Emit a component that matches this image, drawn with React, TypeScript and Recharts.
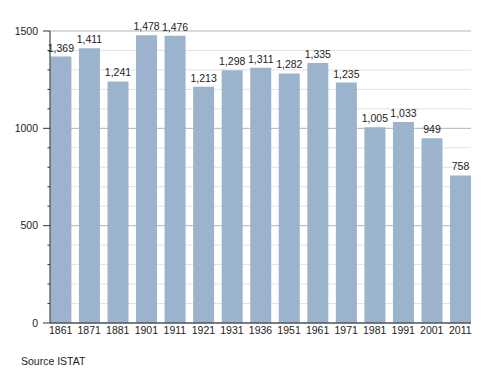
import { Bar, BarChart, CartesianGrid, LabelList, XAxis, YAxis } from "recharts";

const years = ["1861", "1871", "1881", "1901", "1911", "1921", "1931", "1936", "1951", "1961", "1971", "1981", "1991", "2001", "2011"];
const population = [1369, 1411, 1241, 1478, 1476, 1213, 1298, 1311, 1282, 1335, 1235, 1005, 1033, 949, 758];
const majorTicks = [0, 500, 1000, 1500];
const minorTicks = [100, 200, 300, 400, 600, 700, 800, 900, 1100, 1200, 1300, 1400];
const allTicks = [...majorTicks, ...minorTicks].sort((a, b) => a - b);

const data = years.map((year, i) => ({ year, value: population[i] }));

const font = "'Liberation Sans', Arial, sans-serif";

// y tick: long tick + label on majors, short tick on minors
function YTick(props: any) {
  const { x, y, payload } = props;
  const major = payload.value % 500 === 0;
  return (
    <g>
      <line x1={major ? x - 7 : x - 2.5} x2={x} y1={y} y2={y} stroke="#333" strokeWidth={1} />
      {major && (
        <text x={x - 12} y={y} dy="0.35em" textAnchor="end" fontSize={10.5} fontFamily={font} fill="#222">
          {payload.value}
        </text>
      )}
    </g>
  );
}

const fmt = (v: any) => Number(v).toLocaleString("en-US");

export default function App() {
  return (
    <div style={{ position: "absolute", left: 0, top: 0, width: 500, height: 373, background: "#fff" }}>
      <BarChart
        width={500}
        height={373}
        data={data}
        margin={{ top: 31, right: 29, left: 0, bottom: 20 }}
        barSize={21}
      >
        <CartesianGrid vertical={false} horizontalValues={minorTicks} stroke="#e2e2e2" />
        <CartesianGrid vertical={false} horizontalValues={majorTicks} stroke="#b4b4b4" />
        <XAxis
          dataKey="year"
          height={30}
          padding={{ left: -3.6, right: -3.6 }}
          tickLine={false}
          tickSize={0}
          tickMargin={4}
          axisLine={{ stroke: "#222" }}
          tick={{ fontSize: 10.5, fontFamily: font, fill: "#222" }}
          interval={0}
        />
        <YAxis
          width={50}
          domain={[0, 1500]}
          ticks={allTicks}
          interval={0}
          tickLine={false}
          tickSize={0}
          tickMargin={0}
          axisLine={{ stroke: "#222" }}
          tick={<YTick />}
        />
        <Bar dataKey="value" fill="#9bb3cd" isAnimationActive={false}>
          <LabelList
            dataKey="value"
            position="top"
            offset={5}
            formatter={fmt}
            style={{ fontSize: 10.5, fontFamily: font, fill: "#222" }}
          />
        </Bar>
      </BarChart>
      <div
        style={{
          position: "absolute",
          left: 21,
          top: 355,
          fontSize: 10.5,
          fontFamily: font,
          color: "#222",
        }}
      >
        Source ISTAT
      </div>
    </div>
  );
}
